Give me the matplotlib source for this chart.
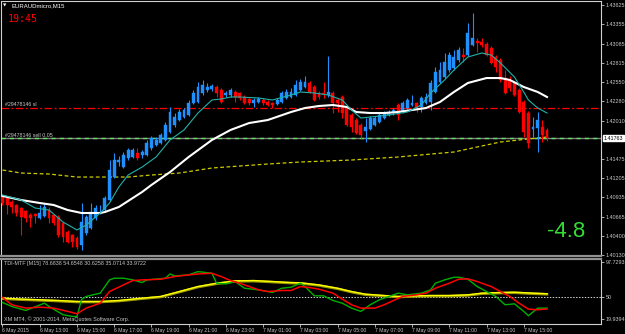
import matplotlib
matplotlib.use('Agg')
import matplotlib.pyplot as plt
import matplotlib.transforms as mtransforms
import numpy as np

# ---------------- data (EURAUDmicro, M15) ----------------
opens = [1.40941, 1.40927, 1.40871, 1.40829, 1.40787, 1.40745, 1.40689, 1.40703, 1.40647, 1.40675,
         1.40759, 1.40689, 1.40661, 1.40577, 1.40452, 1.40410, 1.40368, 1.40270, 1.40438, 1.40507,
         1.40647, 1.40717, 1.40759, 1.40899, 1.41220, 1.41430, 1.41360, 1.41486, 1.41500, 1.41556,
         1.41528, 1.41528, 1.41626, 1.41668, 1.41696, 1.41738, 1.41850, 1.41947, 1.42017, 1.42059,
         1.42087, 1.42255, 1.42269, 1.42395, 1.42437, 1.42451, 1.42479, 1.42437, 1.42367, 1.42367,
         1.42409, 1.42395, 1.42339, 1.42311, 1.42255, 1.42269, 1.42297, 1.42269, 1.42255, 1.42241,
         1.42269, 1.42325, 1.42339, 1.42367, 1.42437, 1.42479, 1.42535, 1.42479, 1.42395, 1.42395,
         1.42367, 1.42395, 1.42297, 1.42339, 1.42185, 1.42087, 1.42017, 1.41947, 1.41864, 1.41891,
         1.41947, 1.41989, 1.42045, 1.42087, 1.42115, 1.42227, 1.42129, 1.42185, 1.42227, 1.42255,
         1.42199, 1.42255, 1.42269, 1.42409, 1.42549, 1.42618, 1.42716, 1.42744, 1.42856, 1.42926,
         1.42926, 1.43066, 1.43122, 1.43108, 1.43080, 1.43024, 1.42898, 1.42856, 1.42605, 1.42577,
         1.42535, 1.42437, 1.42269, 1.42115, 1.41891, 1.41905, 1.41919, 1.41878]
highs = [1.40969, 1.40941, 1.40899, 1.40843, 1.40801, 1.40759, 1.40717, 1.40717, 1.40829, 1.40857,
         1.40801, 1.40703, 1.40689, 1.40591, 1.40480, 1.40424, 1.40396, 1.40857, 1.40689, 1.40857,
         1.40829, 1.40829, 1.40955, 1.41458, 1.41556, 1.41514, 1.41570, 1.41626, 1.41626, 1.41626,
         1.41598, 1.41738, 1.41794, 1.41780, 1.41836, 1.41989, 1.42199, 1.42115, 1.42171, 1.42185,
         1.42297, 1.42437, 1.42549, 1.42577, 1.42535, 1.42521, 1.42507, 1.42465, 1.42423, 1.42465,
         1.42437, 1.42409, 1.42367, 1.42325, 1.42325, 1.42339, 1.42325, 1.42297, 1.42269, 1.42325,
         1.42423, 1.42451, 1.42465, 1.42577, 1.42591, 1.42633, 1.42563, 1.42507, 1.42423, 1.42549,
         1.42912, 1.42423, 1.42325, 1.42367, 1.42213, 1.42115, 1.42045, 1.41975, 1.42045, 1.42073,
         1.42073, 1.42115, 1.42143, 1.42157, 1.42185, 1.42255, 1.42283, 1.42325, 1.42367, 1.42269,
         1.42353, 1.42395, 1.42577, 1.42758, 1.42828, 1.42954, 1.42968, 1.42996, 1.43038, 1.43024,
         1.43373, 1.43513, 1.43164, 1.43164, 1.43108, 1.43052, 1.42926, 1.42884, 1.42716, 1.42633,
         1.42563, 1.42465, 1.42297, 1.42143, 1.42059, 1.42129, 1.42017, 1.41905]
lows = [1.40829, 1.40703, 1.40717, 1.40675, 1.40410, 1.40591, 1.40521, 1.40577, 1.40633, 1.40661,
        1.40577, 1.40549, 1.40382, 1.40312, 1.40298, 1.40242, 1.40214, 1.40200, 1.40410, 1.40493,
        1.40619, 1.40703, 1.40731, 1.40885, 1.41206, 1.41374, 1.41346, 1.41458, 1.41486, 1.41458,
        1.41486, 1.41514, 1.41598, 1.41654, 1.41682, 1.41724, 1.41836, 1.41919, 1.42003, 1.42045,
        1.42073, 1.42241, 1.42255, 1.42367, 1.42409, 1.42423, 1.42339, 1.42255, 1.42339, 1.42339,
        1.42269, 1.42297, 1.42241, 1.42227, 1.42199, 1.42255, 1.42227, 1.42213, 1.42185, 1.42227,
        1.42255, 1.42311, 1.42325, 1.42353, 1.42423, 1.42465, 1.42395, 1.42283, 1.42311, 1.42325,
        1.42339, 1.42115, 1.42129, 1.42045, 1.41933, 1.41850, 1.41822, 1.41766, 1.41710, 1.41878,
        1.41933, 1.41975, 1.42031, 1.42073, 1.42087, 1.42017, 1.42115, 1.42171, 1.42213, 1.42129,
        1.42129, 1.42241, 1.42157, 1.42395, 1.42535, 1.42604, 1.42688, 1.42716, 1.42828, 1.42828,
        1.42912, 1.43052, 1.42968, 1.43038, 1.42912, 1.42800, 1.42688, 1.42549, 1.42381, 1.42423,
        1.42353, 1.42115, 1.41780, 1.41626, 1.41780, 1.41570, 1.41710, 1.41724]
closes = [1.40857, 1.40829, 1.40801, 1.40717, 1.40661, 1.40647, 1.40647, 1.40675, 1.40717, 1.40801,
          1.40647, 1.40577, 1.40410, 1.40382, 1.40312, 1.40312, 1.40242, 1.40591, 1.40661, 1.40731,
          1.40787, 1.40731, 1.40927, 1.41318, 1.41458, 1.41458, 1.41528, 1.41598, 1.41598, 1.41486,
          1.41570, 1.41696, 1.41766, 1.41738, 1.41808, 1.41948, 1.42129, 1.42059, 1.42129, 1.42157,
          1.42255, 1.42395, 1.42479, 1.42507, 1.42479, 1.42493, 1.42395, 1.42269, 1.42395, 1.42437,
          1.42339, 1.42325, 1.42255, 1.42255, 1.42297, 1.42311, 1.42255, 1.42227, 1.42227, 1.42297,
          1.42395, 1.42409, 1.42409, 1.42507, 1.42549, 1.42549, 1.42409, 1.42297, 1.42339, 1.42381,
          1.42409, 1.42255, 1.42255, 1.42115, 1.41947, 1.41919, 1.41836, 1.41808, 1.41919, 1.42045,
          1.42045, 1.42087, 1.42115, 1.42129, 1.42157, 1.42087, 1.42255, 1.42297, 1.42255, 1.42185,
          1.42325, 1.42339, 1.42535, 1.42688, 1.42716, 1.42828, 1.42926, 1.42898, 1.42996, 1.42898,
          1.43234, 1.43164, 1.43094, 1.43066, 1.42926, 1.42814, 1.42758, 1.42577, 1.42395, 1.42465,
          1.42367, 1.42129, 1.41850, 1.41696, 1.41919, 1.42017, 1.41808, 1.41763]

fast_ma_idx = [0, 4, 7, 10, 13, 16, 18, 21, 23, 25, 27, 30, 33, 36, 39, 42, 45, 47, 49, 51,
               55, 58, 62, 64, 67, 70, 73, 75, 77, 79, 83, 87, 90, 92, 95, 97, 100, 103, 105, 107,
               110, 112, 113, 115, 117]
fast_ma = [1.40969, 1.40899, 1.40787, 1.40759, 1.40591, 1.40480, 1.40549, 1.40717, 1.40857, 1.41081,
           1.41248, 1.41360, 1.41500, 1.41738, 1.41878, 1.42115, 1.42297, 1.42311, 1.42339, 1.42339,
           1.42325, 1.42297, 1.42367, 1.42409, 1.42395, 1.42367, 1.42297, 1.42157, 1.42045, 1.42059,
           1.42087, 1.42129, 1.42227, 1.42395, 1.42577, 1.42716, 1.42898, 1.42954, 1.42926, 1.42814,
           1.42618, 1.42409, 1.42297, 1.42185, 1.42115]
slow_ma_idx = [0, 4, 8, 11, 14, 17, 21, 22, 25, 30, 32, 36, 40, 45, 49, 53, 57, 62, 65, 68,
               71, 74, 76, 79, 82, 85, 91, 94, 97, 100, 104, 107, 109, 112, 115, 117]
slow_ma = [1.40955, 1.40899, 1.40857, 1.40829, 1.40759, 1.40717, 1.40717, 1.40731, 1.40801, 1.41011,
           1.41109, 1.41290, 1.41500, 1.41738, 1.41878, 1.41975, 1.42017, 1.42129, 1.42185, 1.42213,
           1.42227, 1.42199, 1.42129, 1.42115, 1.42115, 1.42129, 1.42185, 1.42269, 1.42409, 1.42535,
           1.42604, 1.42604, 1.42577, 1.42479, 1.42409, 1.42339]
long_ma_idx = [0, 4, 10, 16, 21, 27, 32, 38, 45, 51, 57, 64, 75, 85, 97, 107, 117]
long_ma = [1.41318, 1.41276, 1.41262, 1.41220, 1.41220, 1.41220, 1.41248, 1.41276, 1.41346, 1.41374,
           1.41402, 1.41430, 1.41458, 1.41500, 1.41570, 1.41710, 1.41780]

price_ticks = [1.43625, 1.43355, 1.43085, 1.42815, 1.42550, 1.42280, 1.42010,
               1.41475, 1.41205, 1.40935, 1.40665, 1.40400, 1.40130]
last_price = 1.41763
sl_price = 1.42185
entry_price = 1.41763

tdi_green_idx = [0, 2, 5, 9, 10, 13, 15, 16, 17, 18, 20, 21, 23, 24, 26, 28, 30, 31, 35, 36,
                 37, 40, 42, 45, 46, 48, 50, 51, 52, 55, 57, 58, 60, 62, 64, 65, 67, 69, 71, 73,
                 75, 77, 79, 81, 83, 85, 87, 90, 92, 93, 95, 97, 98, 100, 102, 104, 106, 108, 110, 112,
                 113, 115, 117]
tdi_green = [42.7, 37.3, 31.9, 41.8, 37.3, 26.1, 23.8, 23.5, 47.0, 50.9, 54.0, 55.4, 73.4, 75.7, 75.7,
             73.4, 69.8, 73.4, 75.7, 81.5, 78.8, 80.2, 84.7, 82.4, 68.9, 68.0, 71.2, 66.6, 62.1, 59.9,
             57.6, 56.3, 62.1, 63.5, 68.9, 64.4, 51.8, 51.8, 45.4, 41.8, 35.1, 30.6, 39.6, 46.4, 50.9,
             55.4, 53.1, 55.4, 59.9, 68.9, 73.4, 77.0, 77.0, 74.3, 64.4, 57.6, 50.9, 39.6, 40.9, 30.6,
             24.7, 35.1, 35.0714]
tdi_red_idx = [0, 2, 5, 8, 11, 14, 16, 18, 21, 23, 26, 28, 30, 34, 37, 40, 42, 45, 47, 49,
               51, 53, 55, 57, 60, 62, 64, 66, 68, 71, 73, 75, 77, 80, 82, 84, 86, 89, 91, 93,
               96, 98, 100, 102, 105, 107, 109, 111, 113, 115, 117]
tdi_red = [49.5, 39.6, 35.1, 36.4, 35.1, 30.6, 27.4, 35.1, 41.8, 57.6, 66.6, 72.5, 73.4, 74.3, 77.9,
           80.2, 81.5, 82.4, 77.9, 72.5, 68.9, 64.4, 59.9, 57.6, 59.0, 59.0, 64.4, 63.0, 60.8, 55.4,
           47.3, 39.6, 35.1, 35.1, 39.6, 45.4, 50.9, 53.1, 55.4, 62.1, 68.9, 74.3, 74.8, 71.2, 64.4,
           57.6, 50.9, 41.8, 33.7, 32.8, 33.9722]
tdi_yellow_idx = [0, 4, 8, 12, 16, 21, 25, 30, 34, 38, 42, 46, 50, 54, 58, 62, 64, 68, 72, 75,
                  78, 82, 85, 89, 92, 96, 100, 103, 107, 110, 114, 117]
tdi_yellow = [48.6, 47.3, 46.4, 45.4, 44.1, 44.1, 45.4, 48.6, 50.9, 57.6, 64.4, 68.9, 72.1, 72.5, 71.2,
              69.8, 69.5, 66.6, 62.1, 57.6, 54.0, 52.2, 50.9, 51.8, 52.2, 52.2, 53.1, 55.4, 56.3, 56.7,
              55.4, 54.6548]
tdi_ticks = [97.7293, 50, 19.9394]
tdi_tick_labels = ['97.7293', '50', '19.9394']

time_labels = ['6 May 2015', '6 May 13:00', '6 May 15:00', '6 May 17:00', '6 May 19:00',
               '6 May 21:00', '6 May 23:00', '7 May 01:00', '7 May 03:00', '7 May 05:00',
               '7 May 07:00', '7 May 09:00', '7 May 11:00', '7 May 13:00', '7 May 15:00']
time_label_idx = [0, 8, 16, 24, 32, 40, 48, 56, 64, 72, 80, 88, 96, 104, 112]

# ---------------- figure ----------------
plt.rcParams['font.family'] = ['Liberation Sans', 'DejaVu Sans']
W, H = 625, 334
fig = plt.figure(figsize=(W / 100, H / 100), dpi=100, facecolor='black')


def rect(x0, y0, x1, y1):
    return [x0 / W, 1 - y1 / H, (x1 - x0) / W, (y1 - y0) / H]


TXT = '#C8C8C8'
ax = fig.add_axes(rect(1, 1, 601, 256), facecolor='black')
ax2 = fig.add_axes(rect(1, 259, 601, 324), facecolor='black')

XL = (-0.32, 128.6)

# candles
x = np.arange(len(opens))
o = np.array(opens)
c = np.array(closes)
up = c >= o
cols = np.where(up, '#1E90FF', '#FF0000')
ax.vlines(x, lows, highs, colors=cols, lw=0.8, zorder=3)
bottom = np.minimum(o, c)
height = np.maximum(np.abs(c - o), 0.00003)
ax.bar(x, height, bottom=bottom, width=0.62, color=cols, edgecolor=cols, lw=0.3, zorder=4)

# moving averages
ax.plot(long_ma_idx, long_ma, color='#CCCC00', lw=0.9, ls=(0, (3, 2)), zorder=2)
ax.plot(slow_ma_idx, slow_ma, color='white', lw=1.5, zorder=5)
ax.plot(fast_ma_idx, fast_ma, color='#20B2AA', lw=0.8, zorder=6)

# order lines
ax.axhline(sl_price, color='#FF0000', lw=0.9, ls=(0, (6, 2, 1.5, 2)), zorder=1)
ax.axhline(last_price, color='#808080', lw=1.0, zorder=1)
ax.axhline(entry_price, color='#66DD66', lw=1.0, ls=(0, (3, 3)), zorder=1)

ax.set_xlim(*XL)
ax.set_ylim(1.40116, 1.43681)
ax.set_xticks([])
ax.yaxis.tick_right()
ax.set_yticks(price_ticks)
ax.set_yticklabels(['%.5f' % p for p in price_ticks])
ax.tick_params(axis='y', colors=TXT, labelsize=3.85, length=2, width=0.6, pad=1.5,
               labelcolor=TXT)
for s in ['left', 'top', 'right']:
    ax.spines[s].set_color('#D0D0D0')
    ax.spines[s].set_linewidth(0.8)
ax.spines['bottom'].set_color('#909090')
ax.spines['bottom'].set_linewidth(1.6)

trans = mtransforms.blended_transform_factory(ax.transAxes, ax.transData)
ax.text(1.005, last_price, '%.5f' % last_price, transform=trans, fontsize=3.85,
        color='black', va='center', ha='left',
        bbox=dict(boxstyle='square,pad=0.15', fc='white', ec='white'))

# ---------------- TDI panel ----------------
ax2.plot(tdi_yellow_idx, np.array(tdi_yellow) - 0.8, color='#9A9A00', lw=1.8, zorder=2)
ax2.plot(tdi_yellow_idx, tdi_yellow, color='#FFFF00', lw=1.0, zorder=3)
ax2.plot(tdi_green_idx, tdi_green, color='#00B000', lw=1.0, zorder=4)
ax2.plot(tdi_red_idx, tdi_red, color='#FF0000', lw=1.1, zorder=5)
ax2.axhline(50, color='#D0D0D0', lw=0.7, ls=(0, (1.5, 1.5)), zorder=1)
ax2.set_xlim(*XL)
ax2.set_ylim(13.5, 101.8)
ax2.yaxis.tick_right()
ax2.set_yticks(tdi_ticks)
ax2.set_yticklabels(tdi_tick_labels)
ax2.tick_params(axis='y', colors=TXT, labelsize=3.85, length=2, width=0.6, pad=1.5,
                labelcolor=TXT)
ax2.set_xticks(time_label_idx)
ax2.set_xticklabels(time_labels)
ax2.tick_params(axis='x', colors=TXT, labelsize=3.7, length=2, width=0.6, pad=1.2,
                labelcolor=TXT)
for lab in ax2.get_xticklabels():
    lab.set_horizontalalignment('left')
for s in ['left', 'right', 'bottom']:
    ax2.spines[s].set_color('#D0D0D0')
    ax2.spines[s].set_linewidth(0.8)
ax2.spines['top'].set_color('#909090')
ax2.spines['top'].set_linewidth(1.6)


def ftext(px, py, s, **kw):
    fig.text(px / W, 1 - py / H, s, **kw)


ftext(3, 5.5, '▼', fontsize=3.2, color='white', va='center', ha='left',
      family='DejaVu Sans')
ftext(11, 5.5, 'EURAUDmicro,M15', fontsize=4.3, color='white', va='center', ha='left')
ftext(8, 18.5, '19:45', fontsize=7.2, color='#FF0000', va='center', ha='left',
      family='DejaVu Sans Mono')
ftext(5, 104.5, '#29478146 sl', fontsize=3.8, color=TXT, va='center', ha='left')
ftext(5, 135.5, '#29478146 sell 0.05', fontsize=3.8, color=TXT, va='center', ha='left')
ftext(547, 237, '-4.8', fontsize=16, color='#33DD33', va='baseline', ha='left')
ftext(4, 263.5, 'TDI-MTF [M15] 78.6838 54.6548 30.6258 35.0714 33.9722', fontsize=3.9,
      color=TXT, va='center', ha='left')
ftext(4, 319.5, 'XM MT4, © 2001-2014, MetaQuotes Software Corp.', fontsize=3.9,
      color=TXT, va='center', ha='left')

fig.savefig('out.png', dpi=100, facecolor='black')
